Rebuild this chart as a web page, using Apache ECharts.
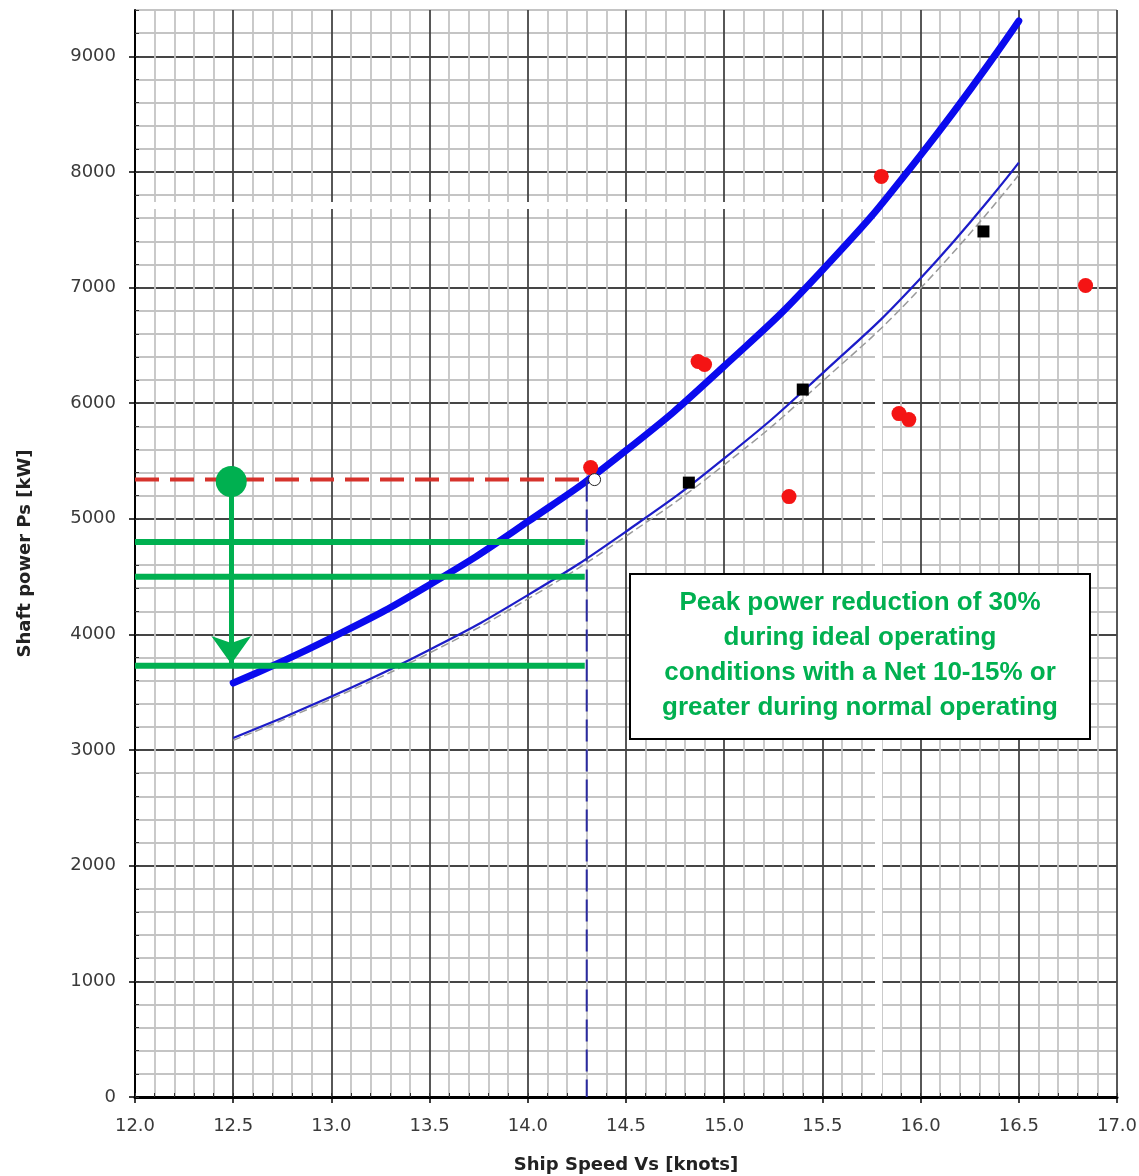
<!DOCTYPE html>
<html><head><meta charset="utf-8">
<script src="https://cdn.jsdelivr.net/npm/echarts@6/dist/echarts.min.js"></script>
<style>html,body{margin:0;padding:0;background:#fff}#c{width:1139px;height:1176px}</style>
</head><body><div id="c"></div>
<script>
// ---- data ----
const speeds      = [12.5, 13.0, 13.5, 14.0, 14.5, 15.0, 15.5, 16.0, 16.5];
const powerHeavy  = [3580, 3970, 4430, 4975, 5590, 6320, 7150, 8145, 9305];
const powerTrial  = [3104, 3464, 3868, 4340, 4890, 5522, 6258, 7080, 8080];
const powerRef    = [3084, 3442, 3840, 4307, 4850, 5467, 6188, 6995, 7975];
const redPoints   = [[14.32,5443],[14.867,6360],[14.90,6334],[15.33,5192],[15.80,7961],[15.89,5910],[15.94,5858],[16.84,7018]];
const blackSquares= [[14.82,5313],[15.40,6118],[16.32,7485]];
const openPoint   = [[14.34,5339]];
const refSpeed = 14.3;
const refPower = 5340;
const greenLevels = [4800, 4500, 3730];
const greenEnd = 14.29;
const arrowSpeed = 12.49;
const arrowFrom = 5322;
const arrowTo = 3745;
const artifactX = 15.785;
const artifactY = 7710;
const xLabelValues = [12.0,12.5,13.0,13.5,14.0,14.5,15.0,15.5,16.0,16.5,17.0];
const yLabelValues = [0,1000,2000,3000,4000,5000,6000,7000,8000,9000];
const boxLines = ['Peak power reduction of 30%','during ideal operating','conditions with a Net 10-15% or','greater during normal operating'];

const pair = (xs, ys) => xs.map((x, i) => [x, ys[i]]);
const GREEN = '#00b050';
const tickFont = {fontFamily:'DejaVu Sans', fontSize:18, color:'#3a3a3a'};
const majorMinor = ['#454545','#c4c4c4','#c4c4c4','#c4c4c4','#c4c4c4'];
const nameFont = {fontFamily:'DejaVu Sans', fontWeight:'bold', fontSize:18, color:'#222'};

const chart = echarts.init(document.getElementById('c'), null, {renderer:'canvas'});
const series = [
  { // white scan artefacts on the original image
    type:'line', data:[], silent:true, z:1,
    markLine:{silent:true, z:1, symbol:['none','none'], label:{show:false},
      lineStyle:{color:'#ffffff', width:7, type:'solid'},
      data:[
        [{coord:[artifactX, 30]},{coord:[artifactX, artifactY]}],
        [{coord:[12.02, artifactY]},{coord:[artifactX, artifactY]}]
      ]}
  },
  {type:'line', name:'ref', data:pair(speeds, powerRef), smooth:true, showSymbol:false, z:3,
   lineStyle:{color:'#9a9a9a', width:1.5, type:[8,4]}},
  {type:'line', name:'trial', data:pair(speeds, powerTrial), smooth:true, showSymbol:false, z:4,
   lineStyle:{color:'#1c1cc8', width:2.2}},
  {type:'line', name:'heavy', data:pair(speeds, powerHeavy), smooth:true, showSymbol:false, z:5,
   lineStyle:{color:'#0a0aee', width:7, cap:'round'}},
  {type:'line', data:[[12.0, refPower],[refSpeed, refPower]], showSymbol:false, z:6,
   lineStyle:{color:'#d6332c', width:4, type:[24,11]}},
  {type:'line', data:[[refSpeed, refPower],[refSpeed, 0]], showSymbol:false, z:6,
   lineStyle:{color:'#2a2aa0', width:2, type:[22,8]}},
  ...greenLevels.map(v => ({type:'line', data:[[12.0, v],[greenEnd, v]], showSymbol:false, z:7,
   lineStyle:{color:GREEN, width:6}})),
  {type:'line', data:[], z:8, silent:true,
   markLine:{silent:true, z:8, symbol:['none','arrow'], symbolSize:[30,28], label:{show:false},
     lineStyle:{color:GREEN, width:5, type:'solid'},
     data:[[{coord:[arrowSpeed, arrowFrom]},{coord:[arrowSpeed, arrowTo]}]]}},
  {type:'scatter', data:[[arrowSpeed, arrowFrom]], symbol:'circle', symbolSize:31, z:9,
   itemStyle:{color:GREEN, opacity:1}},
  {type:'scatter', data:redPoints, symbol:'circle', symbolSize:15, z:9, itemStyle:{color:'#f41414', opacity:1}},
  {type:'scatter', data:blackSquares, symbol:'rect', symbolSize:12, z:9, itemStyle:{color:'#000', opacity:1}},
  {type:'scatter', data:openPoint, symbol:'circle', symbolSize:12, z:10,
   itemStyle:{color:'#fff', borderColor:'#222', borderWidth:1, opacity:1}}
];

chart.setOption({
  animation:false,
  backgroundColor:'#fff',
  grid:{left:135, right:22, top:10, bottom:79, containLabel:false, outerBoundsMode:'none'},
  xAxis:[
    {type:'value', min:12, max:17, interval:0.1, position:'bottom',
     axisLine:{show:true, onZero:false, lineStyle:{color:'#000', width:3}},
     axisTick:{show:true, inside:true, length:4, lineStyle:{color:'#333', width:1}},
     axisLabel:{show:false},
     splitLine:{show:true, lineStyle:{color:majorMinor, width:1.8}}},
    {type:'value', min:12, max:17, interval:0.5, position:'bottom',
     name:'Ship Speed Vs [knots]', nameLocation:'middle', nameGap:59, nameTextStyle:nameFont,
     axisLine:{show:false, onZero:false},
     axisTick:{show:true, length:6, customValues:xLabelValues, lineStyle:{color:'#000', width:1.5}},
     axisLabel:{...tickFont, margin:20, customValues:xLabelValues, formatter:v => v.toFixed(1)},
     splitLine:{show:false}}
  ],
  yAxis:[
    {type:'value', min:0, max:9400, interval:200, position:'left',
     axisLine:{show:true, lineStyle:{color:'#000', width:2}},
     axisTick:{show:true, inside:true, length:4, lineStyle:{color:'#333', width:1}},
     axisLabel:{show:false},
     splitLine:{show:true, lineStyle:{color:majorMinor, width:1.8}}},
    {type:'value', min:0, max:9400, interval:1000, position:'left',
     name:'Shaft power Ps [kW]', nameLocation:'middle', nameGap:101, nameRotate:90, nameTextStyle:nameFont,
     axisLine:{show:false},
     axisTick:{show:true, length:6, customValues:yLabelValues, lineStyle:{color:'#000', width:1.5}},
     axisLabel:{...tickFont, margin:19, customValues:yLabelValues, formatter:v => String(v)},
     splitLine:{show:false}}
  ],
  series:series,
  graphic:[{
    type:'group', left:629, top:573, z:100,
    children:[
      {type:'rect', z:100, shape:{x:0, y:0, width:460, height:165},
       style:{fill:'#fff', stroke:'#000', lineWidth:2}},
      {type:'text', z:101, x:230, y:81,
       style:{text:boxLines.join('\n'), font:'bold 26px "Liberation Sans", Arial, sans-serif',
         fill:GREEN, align:'center', verticalAlign:'middle', lineHeight:35}}
    ]
  }]
});
</script></body></html>
